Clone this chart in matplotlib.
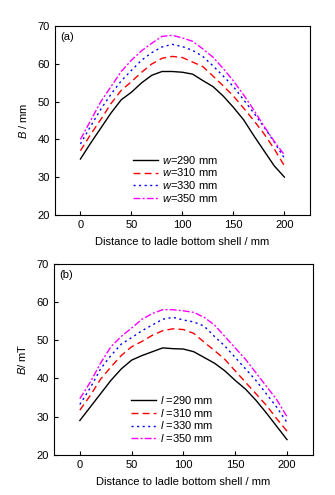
import matplotlib
matplotlib.use("Agg")
import matplotlib.pyplot as plt

plt.rcParams['font.family'] = ['Liberation Sans', 'DejaVu Sans']
plt.rcParams['mathtext.fontset'] = 'custom'
plt.rcParams['mathtext.it'] = 'Liberation Sans:italic'
plt.rcParams['mathtext.rm'] = 'Liberation Sans'

x = [0, 10, 20, 30, 40, 50, 60, 70, 80, 90, 100, 110, 120, 130, 140, 150, 160, 170, 180, 190, 200]

# (a) B / mm for different w
a_w290 = [34.8, 39, 43, 47, 50.5, 52.5, 55, 57, 58, 58, 57.8, 57.3, 55.6, 54, 51.5, 48.5, 45.2, 41, 37, 33, 30]
a_w310 = [37, 41.3, 45.3, 49.5, 53, 55.3, 57.8, 60, 61.5, 62, 61.7, 60.5, 59.3, 56.8, 54.2, 51.5, 48.3, 45, 41.5, 37.5, 33]
a_w330 = [38.8, 43.5, 48, 52, 55.5, 58.3, 61, 63, 64.5, 65.2, 64.6, 63.6, 62, 59.5, 56.8, 54, 50.5, 47, 43.3, 39.3, 35]
a_w350 = [40, 45, 50, 54, 58, 61, 63.5, 65.5, 67.3, 67.6, 66.9, 66, 64, 61.8, 58.8, 55.5, 51.8, 47.8, 43.5, 39.5, 35.9]

# (b) B / mT for different l
b_l290 = [29, 32.5, 36, 39.5, 42.5, 44.8, 46, 47, 48, 47.8, 47.7, 47, 45.5, 44, 42, 39.5, 37.2, 34.3, 31, 27.5, 24]
b_l310 = [31.7, 35.5, 39.8, 43, 46, 48.3, 49.7, 51.3, 52.5, 53, 52.8, 51.8, 49.5, 47.3, 45, 42, 39, 36, 33, 29.5, 26.2]
b_l330 = [33.2, 37.5, 42.5, 46, 49, 50.7, 52.5, 54, 55.5, 56, 55.3, 54.8, 53.7, 51, 48.5, 45.5, 42.5, 39.5, 36, 32.5, 28.5]
b_l350 = [34.7, 39, 44, 48.3, 51, 53.2, 55.5, 57, 58, 58, 57.7, 57.3, 56, 54, 51, 48, 45, 41.5, 38, 34.5, 30]

labels_a = ['$\\it{w}$=290 mm', '$\\it{w}$=310 mm', '$\\it{w}$=330 mm', '$\\it{w}$=350 mm']
labels_b = ['$\\it{l}$ =290 mm', '$\\it{l}$ =310 mm', '$\\it{l}$ =330 mm', '$\\it{l}$ =350 mm']
xticks = [0, 50, 100, 150, 200]
yticks = [20, 30, 40, 50, 60, 70]

styles = [
    dict(color='black', linestyle='-'),
    dict(color='red', linestyle=(0, (5, 3))),
    dict(color='blue', linestyle=(0, (1.5, 2.5))),
    dict(color='magenta', linestyle=(0, (5, 1.5, 1.5, 1.5))),
]

fig = plt.figure(figsize=(3.35, 4.95), dpi=100)
ax1 = fig.add_axes([0.164, 0.566, 0.761, 0.381])
ax2 = fig.add_axes([0.161, 0.081, 0.773, 0.386])

fs = 8
for ax, series, labels, ylabel, tag, leg_anchor in [
    (ax1, [a_w290, a_w310, a_w330, a_w350], labels_a, '$\\it{B}$ / mm', '(a)', (0.306, 0.323)),
    (ax2, [b_l290, b_l310, b_l330, b_l350], labels_b, '$\\it{B}$/ mT', '(b)', (0.297, 0.317)),
]:
    for ys, lab, st in zip(series, labels, styles):
        ax.plot(x, ys, linewidth=1.0, label=lab, **st)
    ax.set_xlim(-25, 225)
    ax.set_ylim(20, 70)
    ax.set_xticks(xticks)
    ax.set_yticks(yticks)
    ax.tick_params(direction='in', length=3, width=0.8, labelsize=fs, top=False, right=False)
    for sp in ax.spines.values():
        sp.set_linewidth(0.8)
    ax.set_xlabel('Distance to ladle bottom shell / mm', fontsize=fs, labelpad=5)
    ax.set_ylabel(ylabel, fontsize=fs, labelpad=6)
    ax.text(0.02, 0.97, tag, transform=ax.transAxes, fontsize=fs, va='top', ha='left')
    ax.legend(loc='upper left', bbox_to_anchor=leg_anchor, frameon=False, fontsize=fs,
              handlelength=2.25, handletextpad=0.35, labelspacing=0.05,
              borderpad=0, borderaxespad=0)

fig.savefig('out.png', dpi=100)
